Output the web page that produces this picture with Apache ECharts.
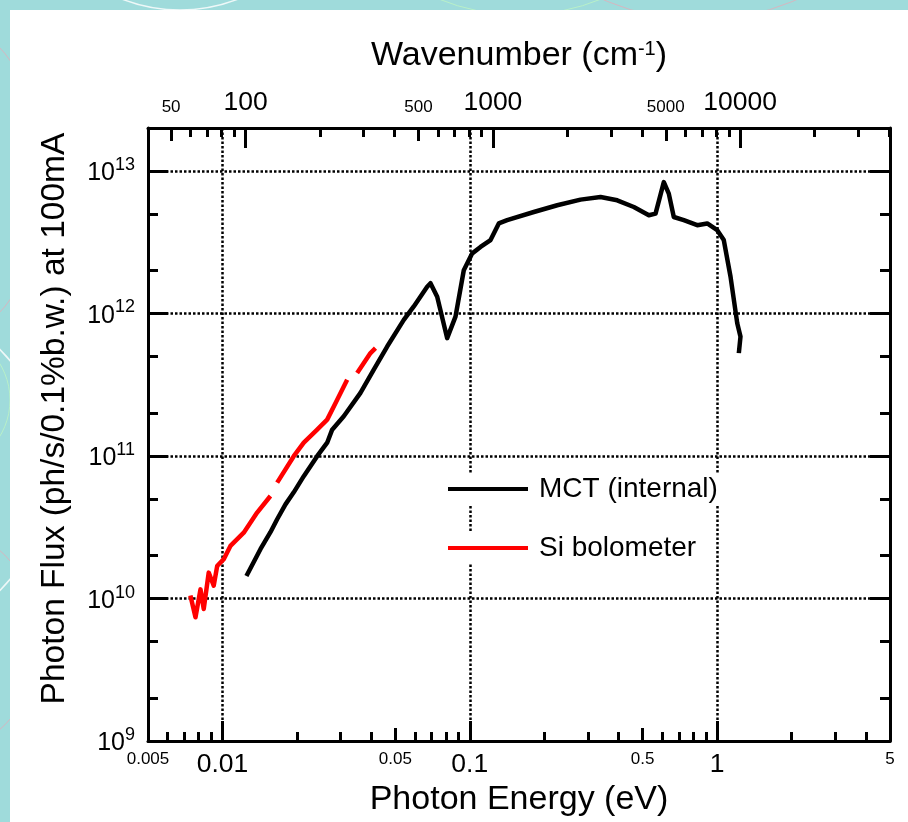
<!DOCTYPE html>
<html>
<head>
<meta charset="utf-8">
<script src="https://cdn.jsdelivr.net/npm/echarts@6/dist/echarts.min.js"></script>
<style>
html,body{margin:0;padding:0;background:#9fdbdb;}
#chart{width:908px;height:822px;}
</style>
</head>
<body>
<div id="chart"></div>
<script>
// ---------------- data ----------------
const seriesNames = ['MCT (internal)', 'Si bolometer'];

const mctEnergy = [0.01250, 0.01424, 0.01563, 0.01664, 0.01798, 0.01942, 0.02132, 0.02415, 0.02651, 0.02777,
  0.03094, 0.03614, 0.04091, 0.04634, 0.05409, 0.05937, 0.06725, 0.06936, 0.07383, 0.08102,
  0.08754, 0.09457, 0.1023, 0.1105, 0.1213, 0.1310, 0.1416, 0.1815, 0.2257, 0.2803,
  0.3378, 0.3945, 0.4605, 0.5296, 0.5637, 0.6088, 0.6377, 0.6681, 0.7333, 0.8308,
  0.9120, 1.001, 1.064, 1.133, 1.206, 1.243, 1.224];
const mctFlux = [1.44e10, 2.22e10, 2.92e10, 3.60e10, 4.58e10, 5.56e10, 7.22e10, 9.97e10, 1.24e11, 1.53e11,
  1.90e11, 2.77e11, 4.03e11, 5.86e11, 9.01e11, 1.12e12, 1.54e12, 1.63e12, 1.31e12, 6.71e11,
  9.50e11, 2.01e12, 2.64e12, 2.93e12, 3.27e12, 4.28e12, 4.51e12, 5.15e12, 5.74e12, 6.29e12,
  6.56e12, 6.22e12, 5.58e12, 4.89e12, 5.02e12, 8.35e12, 6.93e12, 4.75e12, 4.51e12, 4.16e12,
  4.28e12, 3.84e12, 3.27e12, 1.81e12, 8.54e11, 6.88e11, 5.27e11];

// null = gap in the trace
const siEnergy = [0.00742, 0.00778, 0.00815, 0.00840, 0.00880, 0.00922, 0.00952, 0.01012, 0.01077, 0.01219,
  0.01381, 0.01563, 0.01610, 0.01664, 0.01942, 0.02132, 0.02415, 0.02651, 0.02910, 0.03193,
  0.03350, 0.03504, 0.03967, 0.04156];
const siFlux = [1.05e10, 7.39e9, 1.16e10, 8.45e9, 1.52e10, 1.23e10, 1.69e10, 1.89e10, 2.34e10, 2.90e10,
  4.01e10, 5.24e10, null, 6.50e10, 9.97e10, 1.24e11, 1.53e11, 1.80e11, 2.48e11, 3.43e11,
  null, 3.82e11, 5.27e11, 5.71e11];

// ---------------- axes / ticks ----------------
const energyMin = 0.005, energyMax = 5;
const fluxMin = 1e9, fluxMax = 2e13;
const EV_TO_WAVENUMBER = 8065.54;

const energyLabelValues = [0.005, 0.01, 0.05, 0.1, 0.5, 1, 5];
const energyMajorTicks = [0.01, 0.1, 1];
const energyMidTicks = [0.05, 0.5];
const energyMinorTicks = [0.006, 0.007, 0.008, 0.009, 0.02, 0.03, 0.04, 0.06, 0.07, 0.08, 0.09,
  0.2, 0.3, 0.4, 0.6, 0.7, 0.8, 0.9, 2, 3, 4];

const wnLabelValues = [50, 100, 500, 1000, 5000, 10000];
const wnMajorTicks = [100, 1000, 10000];
const wnMidTicks = [50, 500, 5000];
const wnMinorTicks = [60, 70, 80, 90, 200, 300, 400, 600, 700, 800, 900,
  2000, 3000, 4000, 6000, 7000, 8000, 9000, 20000, 30000, 40000];

const fluxLabelValues = [1e9, 1e10, 1e11, 1e12, 1e13];
const fluxMajorTicks = [1e10, 1e11, 1e12, 1e13];
const fluxMinorTicks = [2e9, 5e9, 2e10, 5e10, 2e11, 5e11, 2e12, 5e12];

const xTitle = 'Photon Energy (eV)';
const topTitle = ['Wavenumber (cm', '-1', ')'];
const yTitle = 'Photon Flux (ph/s/0.1%b.w.) at 100mA';

// ---------------- chart ----------------
const FONT = '"Liberation Sans", Arial, Helvetica, sans-serif';
const BLACK = '#000';
const dotted = { color: BLACK, width: 2.5, type: [2.5, 2] };

function pairs(xs, ys) {
  return xs.map((x, i) => [x, ys[i] === null ? '-' : ys[i]]);
}

function bareAxis(pos, min, max) {
  return {
    type: 'log', logBase: 10, position: pos, min: min, max: max, gridIndex: 0,
    axisLine: { show: false, onZero: false },
    axisTick: { show: false },
    axisLabel: { show: false },
    splitLine: { show: false },
    minorTick: { show: false },
    minorSplitLine: { show: false }
  };
}
function tickAxis(pos, min, max, ticks, len) {
  const a = bareAxis(pos, min, max);
  a.axisTick = { show: true, inside: true, length: len, customValues: ticks,
    lineStyle: { color: BLACK, width: 3 } };
  return a;
}

const wnMin = energyMin * EV_TO_WAVENUMBER, wnMax = energyMax * EV_TO_WAVENUMBER;

const labelRich = {
  b: { fontSize: 26.5, fontFamily: FONT, color: BLACK },
  s: { fontSize: 17, fontFamily: FONT, color: BLACK }
};

function sizedLabel(majors) {
  return function (v) {
    const big = majors.some(m => Math.abs(m - v) / m < 1e-6);
    return (big ? '{b|' : '{s|') + String(+v.toPrecision(6)) + '}';
  };
}

// bottom main axis
const xMain = bareAxis('bottom', energyMin, energyMax);
xMain.axisLine = { show: true, onZero: false, lineStyle: { color: BLACK, width: 3 } };
xMain.axisTick = { show: true, inside: true, length: 20, customValues: energyMajorTicks,
  lineStyle: { color: BLACK, width: 3 } };
xMain.axisLabel = { show: true, customValues: energyLabelValues, margin: 10,
  formatter: sizedLabel(energyMajorTicks), rich: labelRich };
xMain.splitLine = { show: true, lineStyle: dotted };
xMain.name = xTitle;
xMain.nameLocation = 'middle';
xMain.nameGap = 38;
xMain.nameTextStyle = { fontSize: 34, fontFamily: FONT, color: BLACK };

// top wavenumber axis
const xTop = bareAxis('top', wnMin, wnMax);
xTop.axisLine = { show: true, onZero: false, lineStyle: { color: BLACK, width: 3 } };
xTop.axisTick = { show: true, inside: true, length: 20, customValues: wnMajorTicks,
  lineStyle: { color: BLACK, width: 3 } };
xTop.axisLabel = { show: true, customValues: wnLabelValues, margin: 12,
  formatter: sizedLabel(wnMajorTicks), rich: labelRich };
xTop.name = '{a|' + topTitle[0] + '}{s|' + topTitle[1] + '}{a|' + topTitle[2] + '}';
xTop.nameLocation = 'middle';
xTop.nameGap = 55;
xTop.nameTextStyle = {
  rich: {
    a: { fontSize: 34, fontFamily: FONT, color: BLACK },
    s: { fontSize: 20, fontFamily: FONT, color: BLACK, verticalAlign: 'top', padding: [0, 0, 14, 0] }
  }
};

// left main y axis
const yRich = {
  b: { fontSize: 25, fontFamily: FONT, color: BLACK, verticalAlign: 'bottom' },
  s: { fontSize: 18, fontFamily: FONT, color: BLACK, verticalAlign: 'top', padding: [0, 0, 12, 0] }
};
const yMain = {
  type: 'log', logBase: 10, min: fluxMin, max: fluxMax, position: 'left', gridIndex: 0,
  axisLine: { show: true, onZero: false, lineStyle: { color: BLACK, width: 3 } },
  axisTick: { show: true, inside: true, length: 20, customValues: fluxMajorTicks,
    lineStyle: { color: BLACK, width: 3 } },
  axisLabel: { show: true, customValues: fluxLabelValues, margin: 13,
    formatter: v => '{b|10}{s|' + Math.round(Math.log10(v)) + '}', rich: yRich },
  splitLine: { show: true, lineStyle: dotted },
  minorTick: { show: false },
  name: yTitle, nameLocation: 'middle', nameGap: 76,
  nameTextStyle: { fontSize: 33.5, fontFamily: FONT, color: BLACK, padding: [0, 0, 0, 32] }
};
const yRight = bareAxis('right', fluxMin, fluxMax);
yRight.axisLine = { show: true, onZero: false, lineStyle: { color: BLACK, width: 3 } };
yRight.axisTick = { show: true, inside: true, length: 20, customValues: fluxMajorTicks,
  lineStyle: { color: BLACK, width: 3 } };

const option = {
  backgroundColor: '#9fdbdb',
  animation: false,
  textStyle: { fontFamily: FONT },
  grid: { left: 148, right: 18, top: 128, bottom: 78, containLabel: false },
  graphic: [
    { type: 'circle', z: -30, shape: { cx: -150, cy: 180, r: 200 }, style: { fill: 'none', stroke: '#d6b6c0', lineWidth: 1 } },
    { type: 'circle', z: -30, shape: { cx: -120, cy: 470, r: 170 }, style: { fill: 'none', stroke: '#eef8f8', lineWidth: 1.5 } },
    { type: 'circle', z: -30, shape: { cx: -80, cy: 640, r: 120 }, style: { fill: 'none', stroke: '#d6b6c0', lineWidth: 1 } },
    { type: 'circle', z: -30, shape: { cx: 180, cy: -150, r: 160 }, style: { fill: 'none', stroke: '#eef8f8', lineWidth: 1.5 } },
    { type: 'circle', z: -30, shape: { cx: 520, cy: -200, r: 215 }, style: { fill: 'none', stroke: '#b8f0c8', lineWidth: 1 } },
    { type: 'circle', z: -30, shape: { cx: 700, cy: -220, r: 240 }, style: { fill: 'none', stroke: '#d6b6c0', lineWidth: 1 } },
    { type: 'circle', z: -30, shape: { cx: -60, cy: 400, r: 70 }, style: { fill: 'none', stroke: '#b8f0c8', lineWidth: 1 } },
    { type: 'rect', z: -20, shape: { x: 10, y: 10, width: 898, height: 812 }, style: { fill: '#ffffff' } }
  ],
  xAxis: [
    xMain,
    tickAxis('bottom', energyMin, energyMax, energyMidTicks, 13),
    tickAxis('bottom', energyMin, energyMax, energyMinorTicks, 9),
    xTop,
    tickAxis('top', wnMin, wnMax, wnMidTicks, 13),
    tickAxis('top', wnMin, wnMax, wnMinorTicks, 9)
  ],
  yAxis: [
    yMain,
    tickAxis('left', fluxMin, fluxMax, fluxMinorTicks, 10),
    yRight,
    tickAxis('right', fluxMin, fluxMax, fluxMinorTicks, 10)
  ],
  legend: [
    { data: [seriesNames[0]], left: 448, top: 473, icon: 'rect', itemWidth: 80, itemHeight: 4,
      selectedMode: false, backgroundColor: '#ffffff', padding: [2, 4, 2, 0],
      textStyle: { fontSize: 28, fontFamily: FONT, color: BLACK, padding: [0, 0, 0, 6] } },
    { data: [seriesNames[1]], left: 448, top: 532, icon: 'rect', itemWidth: 80, itemHeight: 4,
      selectedMode: false, backgroundColor: '#ffffff', padding: [2, 4, 2, 0],
      textStyle: { fontSize: 28, fontFamily: FONT, color: BLACK, padding: [0, 0, 0, 6] } }
  ],
  series: [
    { name: seriesNames[0], type: 'line', xAxisIndex: 0, yAxisIndex: 0,
      data: pairs(mctEnergy, mctFlux), showSymbol: false, symbol: 'none', connectNulls: false,
      color: '#000000', lineStyle: { color: '#000000', width: 4.5, join: 'round' }, z: 5 },
    { name: seriesNames[1], type: 'line', xAxisIndex: 0, yAxisIndex: 0,
      data: pairs(siEnergy, siFlux), showSymbol: false, symbol: 'none', connectNulls: false,
      color: '#ff0000', lineStyle: { color: '#ff0000', width: 4.5, join: 'round' }, z: 4 }
  ]
};

const chart = echarts.init(document.getElementById('chart'), null, { renderer: 'canvas' });
chart.setOption(option);
</script>
</body>
</html>
